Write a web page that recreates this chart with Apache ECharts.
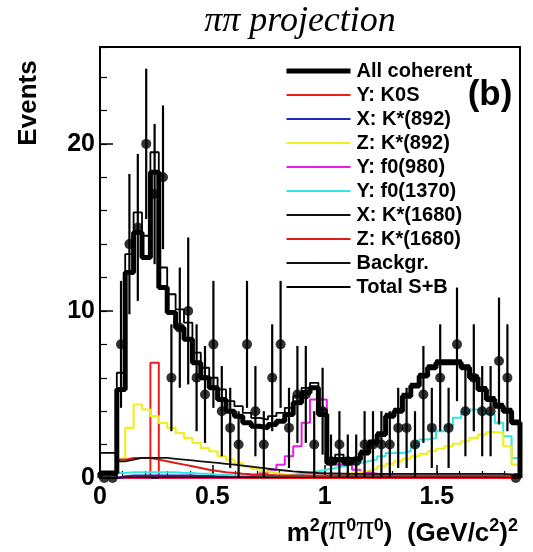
<!DOCTYPE html>
<html><head><meta charset="utf-8">
<script src="https://cdn.jsdelivr.net/npm/echarts@6/dist/echarts.min.js"></script>
<style>html,body{margin:0;padding:0;background:#fff}#c{width:533px;height:552px}</style>
</head><body><div id="c"></div>
<script>
// ---- axis ranges / binning ----
const X_MIN = 0, X_MAX = 1.87;
const Y_MIN = 0, Y_MAX = 25.8;
const N_BINS = 50;
const BIN_WIDTH = 0.0374;

// ---- data points (events per bin) and their error bars ----
const dataCounts = [0,0,8,14,15,20,17,18,6,9,10,6,5,8,4,3,2,8,4,2,6,8,3,5,5,2,4,1,2,1,1,2,2,2,2,3,3,2,5,3,6,3,8,4,6,4,4,7,6,0];
const dataErrors = [0,0,3.8,4.2,4.4,4.5,4.2,4.3,3.2,3.6,4.4,3.2,2.9,3.8,2.7,2.4,2.0,3.8,2.7,2.0,3.2,3.8,2.4,2.9,2.9,2.0,2.6,1.6,2.0,1.6,1.6,2.0,2.0,2.0,2.0,2.4,2.4,2.0,2.9,2.4,3.2,2.4,3.4,2.7,3.2,2.7,2.7,3.8,3.2,0];

// ---- fit components (per bin) ----
const allCoherent = [0.3,0.3,5.3,12.3,14.7,13.2,18.3,11.4,9.9,9.0,8.3,6.9,6.0,5.4,4.7,4.0,3.7,3.3,3.1,3.0,3.2,3.4,3.8,4.5,5.1,5.4,3.8,0.9,1.1,0.9,1.1,1.5,2.1,2.6,3.7,4.0,4.9,5.5,6.1,6.6,6.9,6.9,6.9,6.6,6.0,5.3,4.7,4.3,4.0,3.3];
const totalSB = [1.5,1.5,6.3,13.4,15.9,14.5,19.5,12.6,11.0,10.1,9.3,7.5,6.6,6.0,5.3,4.6,4.3,3.9,3.6,3.5,3.7,3.9,4.2,4.9,5.4,5.7,4.1,1.2,1.4,1.2,1.25,1.65,2.25,2.75,3.85,4.15,5.05,5.65,6.25,6.75,7.05,7.05,7.05,6.75,6.15,5.45,4.85,4.45,4.15,3.45];
const yK0S = [0,0,0,0,0,0,6.9,0,0,0,0,0,0,0,0,0,0,0,0,0,0,0,0,0,0,0,0,0,0,0,0,0,0,0,0,0,0,0,0,0,0,0,0,0,0,0,0,0,0,0];
const xKst892 = [0,0,0.1,0.15,0.15,0.15,0.15,0.15,0.15,0.15,0.15,0.12,0.12,0.12,0.1,0.1,0.1,0.1,0.1,0.1,0.1,0.1,0.1,0.1,0.1,0.1,0.1,0.1,0.1,0.1,0.1,0.1,0.1,0.1,0.1,0.1,0.1,0.1,0.1,0.1,0.1,0.1,0.1,0.1,0.1,0.1,0.1,0.1,0.1,0.05];
const zKst892 = [0,0.2,1.1,3.0,4.4,4.1,3.7,3.3,3.0,2.7,2.4,2.1,1.8,1.6,1.3,1.1,0.9,0.7,0.55,0.4,0.3,0.2,0.15,0.1,0.1,0.1,0.1,0.15,0.2,0.3,0.35,0.45,0.55,0.7,0.85,1.0,1.15,1.3,1.45,1.6,1.75,1.9,2.05,2.2,2.4,2.6,2.75,2.7,1.9,0.8];
const yF0980 = [0,0,0.05,0.05,0.05,0.05,0.05,0.05,0.05,0.05,0.05,0.05,0.05,0.05,0.05,0.05,0.05,0.1,0.15,0.3,0.5,0.8,1.3,1.9,3.3,4.7,4.7,1.0,0.8,0.8,0.5,0.35,0.25,0.2,0.15,0.1,0.1,0.1,0.1,0.1,0.1,0.1,0.1,0.1,0.1,0.1,0.1,0.1,0.1,0.05];
const yF01370 = [0,0,0.3,0.35,0.35,0.35,0.35,0.35,0.35,0.3,0.3,0.25,0.25,0.2,0.2,0.15,0.15,0.1,0.1,0.1,0.1,0.15,0.2,0.25,0.3,0.4,0.5,0.6,0.7,0.8,0.9,1.0,1.1,1.3,1.5,1.5,1.6,1.9,2.3,2.4,2.8,3.1,3.6,3.9,4.1,4.1,3.8,3.3,2.5,1.2];
const xKst1680 = [0,0,0.05,0.05,0.05,0.05,0.05,0.05,0.05,0.05,0.05,0.05,0.05,0.05,0.05,0.05,0.05,0.05,0.05,0.05,0.05,0.05,0.05,0.05,0.05,0.05,0.05,0.05,0.05,0.05,0.05,0.05,0.05,0.05,0.05,0.05,0.05,0.05,0.05,0.05,0.05,0.05,0.05,0.05,0.05,0.05,0.05,0.05,0.05,0.05];
const zKst1680 = [0,0,1.1,1.2,1.2,1.2,1.1,1.0,0.9,0.8,0.7,0.6,0.5,0.42,0.35,0.3,0.25,0.22,0.2,0.18,0.16,0.15,0.15,0.15,0.15,0.15,0.15,0.15,0.15,0.15,0.15,0.15,0.15,0.15,0.15,0.15,0.15,0.15,0.15,0.15,0.15,0.15,0.15,0.15,0.15,0.15,0.15,0.15,0.12,0.08];
const backgr = [0,0,1.0,1.1,1.2,1.2,1.2,1.2,1.15,1.1,1.05,1.0,0.95,0.9,0.85,0.8,0.74,0.68,0.62,0.56,0.5,0.45,0.4,0.36,0.33,0.3,0.28,0.27,0.26,0.25,0.25,0.25,0.25,0.25,0.25,0.25,0.25,0.25,0.25,0.25,0.25,0.25,0.25,0.25,0.25,0.25,0.25,0.25,0.22,0.15];

const legendNames = ['All coherent','Y: K0S','X: K*(892)','Z: K*(892)','Y: f0(980)','Y: f0(1370)','X: K*(1680)','Z: K*(1680)','Backgr.','Total S+B'];

// histogram outline points (bin edges) for a step line
function histPoints(vals) {
  const pts = [[0, 0]];
  vals.forEach((v, i) => pts.push([i * BIN_WIDTH, v]));
  pts.push([N_BINS * BIN_WIDTH, vals[vals.length - 1]]);
  pts.push([N_BINS * BIN_WIDTH, 0]);
  return pts;
}
function histSeries(name, vals, color, width, z) {
  return {name, type:'line', step:'end', symbol:'none', data:histPoints(vals),
    lineStyle:{color, width}, itemStyle:{color}, z, silent:true, clip:true};
}
const FONT = '"Liberation Sans", Arial, sans-serif';
const SERIF = '"Liberation Serif", "Times New Roman", serif';
const centers = dataCounts.map((c, i) => (i + 0.5) * BIN_WIDTH);

const chart = echarts.init(document.getElementById('c'), null, {renderer:'canvas', width:533, height:552});
const option = {
  animation:false,
  backgroundColor:'#fff',
  grid:{left:100, right:13, top:47, bottom:74, show:true, borderColor:'#000', borderWidth:2},
  xAxis:[
    {type:'value', position:'bottom', min:X_MIN, max:X_MAX, interval:0.5,
     axisLine:{lineStyle:{color:'#000', width:2}},
     axisTick:{inside:true, length:13, lineStyle:{color:'#000', width:1.5}},
     axisLabel:{showMaxLabel:false, color:'#000', fontFamily:FONT, fontWeight:'bold', fontSize:25, margin:7},
     splitLine:{show:false}},
    {type:'value', position:'bottom', min:X_MIN, max:X_MAX, interval:0.1,
     axisLine:{show:false}, axisTick:{inside:true, length:7, lineStyle:{color:'#000', width:1.2}},
     axisLabel:{show:false}, splitLine:{show:false}}
  ],
  yAxis:[
    {type:'value', position:'left', min:Y_MIN, max:Y_MAX, interval:10,
     axisLine:{show:true, lineStyle:{color:'#000', width:2}},
     axisTick:{show:true, inside:true, length:13, lineStyle:{color:'#000', width:1.5}},
     axisLabel:{showMaxLabel:false, color:'#000', fontFamily:FONT, fontWeight:'bold', fontSize:25, margin:5},
     splitLine:{show:false}},
    {type:'value', position:'left', min:Y_MIN, max:Y_MAX, interval:2,
     axisLine:{show:false}, axisTick:{show:true, inside:true, length:7, lineStyle:{color:'#000', width:1.2}},
     axisLabel:{show:false}, splitLine:{show:false}}
  ],
  legend:{
    orient:'vertical', left:284, top:61, padding:0, itemWidth:64, itemHeight:1, itemGap:4,
    data:legendNames,
    lineStyle:{width:'inherit'},
    textStyle:{fontFamily:FONT, fontWeight:'bold', fontSize:20, color:'#000', lineHeight:20, padding:[0,0,0,1]}
  },
  series:[
    histSeries('Y: K0S', yK0S, '#ee1c1c', 2, 2),
    histSeries('X: K*(892)', xKst892, '#1a2bbf', 2, 2),
    histSeries('Y: f0(1370)', yF01370, '#30e6e6', 2, 2),
    histSeries('Y: f0(980)', yF0980, '#e61ee6', 2, 2),
    histSeries('Z: K*(892)', zKst892, '#f2ee22', 2.2, 2),
    histSeries('X: K*(1680)', xKst1680, '#111', 1.8, 2),
    histSeries('Z: K*(1680)', zKst1680, '#e01a1a', 2, 2),
    histSeries('Backgr.', backgr, '#111', 1.8, 2),
    histSeries('Total S+B', totalSB, '#000', 1.8, 3),
    histSeries('All coherent', allCoherent, '#000', 5, 4),
    {type:'custom', name:'errors', z:5, silent:true,
     data:centers.map((x, i) => [x, Math.max(0, dataCounts[i] - dataErrors[i]), dataCounts[i] + dataErrors[i]]),
     renderItem:(params, api) => {
       const p1 = api.coord([api.value(0), api.value(1)]);
       const p2 = api.coord([api.value(0), api.value(2)]);
       return {type:'line', shape:{x1:p1[0], y1:p1[1], x2:p2[0], y2:p2[1]}, style:{stroke:'#000', lineWidth:2.2}};
     }},
    {type:'scatter', name:'data', z:6, silent:true, symbol:'circle', symbolSize:10,
     itemStyle:{color:'#000'}, data:centers.map((x, i) => [x, dataCounts[i]])}
  ],
  graphic:[
    {type:'text', x:300, y:22, style:{text:'ππ projection', font:'italic 36px ' + SERIF, fill:'#000', textAlign:'center', textVerticalAlign:'middle'}},
    {type:'text', x:29, y:103, rotation:Math.PI/2, style:{text:'Events', font:'bold 26px ' + FONT, fill:'#000', textAlign:'center', textVerticalAlign:'middle'}},
    {type:'text', x:518, y:532, style:{
      text:'{b|m}{s|2}{b|(}{p|π}{s|0}{p|π}{s|0}{b|)  (GeV/c}{s|2}{b|)}{s|2}',
      textAlign:'right', textVerticalAlign:'middle',
      rich:{
        b:{font:'bold 26px ' + FONT, fill:'#000', lineHeight:30, verticalAlign:'bottom'},
        p:{font:'35px ' + SERIF, fill:'#000', lineHeight:30, verticalAlign:'bottom'},
        s:{font:'bold 18px ' + FONT, fill:'#000', lineHeight:30, verticalAlign:'top'}
      }}},
    {type:'text', x:490, y:95, style:{text:'(b)', font:'bold 35px ' + FONT, fill:'#000', textAlign:'center', textVerticalAlign:'middle'}}
  ]
};
chart.setOption(option);
</script>
</body></html>
